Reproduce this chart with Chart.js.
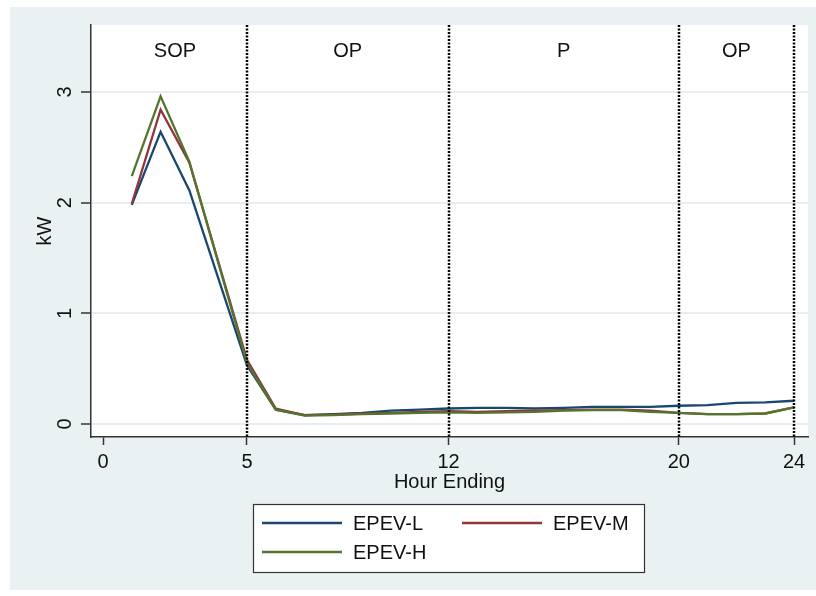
<!DOCTYPE html>
<html>
<head>
<meta charset="utf-8">
<script src="https://cdn.jsdelivr.net/npm/chart.js@4/dist/chart.umd.min.js"></script>
<style>
  html, body { margin: 0; padding: 0; background: #ffffff; }
  #wrap { width: 816px; height: 596px; }
</style>
</head>
<body>
<div id="wrap"><canvas id="c" width="816" height="596"></canvas></div>
<script>
const hours = [1,2,3,4,5,6,7,8,9,10,11,12,13,14,15,16,17,18,19,20,21,22,23,24];
const epevL = [1.98,2.64,2.11,1.32,0.53,0.13,0.08,0.09,0.10,0.12,0.13,0.14,0.145,0.145,0.14,0.145,0.155,0.155,0.155,0.165,0.17,0.19,0.195,0.21];
const epevM = [1.99,2.84,2.36,1.47,0.58,0.14,0.08,0.085,0.095,0.10,0.11,0.115,0.11,0.115,0.12,0.125,0.13,0.13,0.12,0.10,0.09,0.09,0.095,0.15];
const epevH = [2.24,2.96,2.37,1.46,0.55,0.13,0.075,0.08,0.09,0.095,0.10,0.105,0.10,0.105,0.11,0.12,0.125,0.125,0.11,0.10,0.09,0.09,0.095,0.15];
const seriesNames = ['EPEV-L','EPEV-M','EPEV-H'];
const seriesColors = ['#1a476f','#90353b','#55752f'];
const xTicks = [0,5,12,20,24];
const yTicks = [0,1,2,3];
const periodBounds = [5,12,20,24];
const periodLabels = ['SOP','OP','P','OP'];
const periodCenters = [2.5,8.5,16,22];
const periodLabelY = 3.37;

const FONT = "'Liberation Sans', Arial, sans-serif";
const TXT = '#111111';

function toPts(vals) { return hours.map((h, i) => ({x: h, y: vals[i]})); }

const bgPlugin = {
  id: 'bg',
  beforeDraw(chart) {
    const {ctx, chartArea: a} = chart;
    ctx.save();
    ctx.fillStyle = '#eaf1f3';
    ctx.fillRect(10, 7, 806, 583);
    ctx.fillStyle = '#ffffff';
    ctx.fillRect(a.left, a.top, a.right - a.left, a.bottom - a.top);
    ctx.restore();
  }
};

const periodPlugin = {
  id: 'periods',
  afterDatasetsDraw(chart) {
    const {ctx, chartArea: a, scales: {x, y}} = chart;
    ctx.save();
    ctx.strokeStyle = '#000000';
    ctx.lineWidth = 2.5;
    ctx.setLineDash([2, 1.5]);
    periodBounds.forEach(v => {
      const px = Math.round(x.getPixelForValue(v));
      ctx.beginPath();
      ctx.moveTo(px, a.top);
      ctx.lineTo(px, a.bottom);
      ctx.stroke();
    });
    ctx.setLineDash([]);
    ctx.fillStyle = TXT;
    ctx.font = '20px ' + FONT;
    ctx.textAlign = 'center';
    ctx.textBaseline = 'middle';
    periodLabels.forEach((t, i) => {
      ctx.fillText(t, x.getPixelForValue(periodCenters[i]), y.getPixelForValue(periodLabelY));
    });
    ctx.restore();
  }
};

const legendPlugin = {
  id: 'customLegend',
  afterDraw(chart) {
    const {ctx} = chart;
    const box = {l: 253, t: 504, r: 644, b: 572};
    ctx.save();
    ctx.fillStyle = '#ffffff';
    ctx.fillRect(box.l, box.t, box.r - box.l, box.b - box.t);
    ctx.strokeStyle = '#333333';
    ctx.lineWidth = 1.2;
    ctx.strokeRect(box.l + 0.5, box.t + 0.5, box.r - box.l, box.b - box.t);
    const slots = [{x: 262, y: 523}, {x: 462, y: 523}, {x: 262, y: 552}];
    ctx.font = '20px ' + FONT;
    ctx.textBaseline = 'middle';
    ctx.textAlign = 'left';
    chart.data.datasets.forEach((ds, i) => {
      const s = slots[i];
      ctx.strokeStyle = ds.borderColor;
      ctx.lineWidth = 2.6;
      ctx.beginPath();
      ctx.moveTo(s.x, s.y);
      ctx.lineTo(s.x + 80, s.y);
      ctx.stroke();
      ctx.fillStyle = TXT;
      ctx.fillText(ds.label, s.x + 91, s.y + 1);
    });
    ctx.restore();
  }
};

new Chart(document.getElementById('c'), {
  type: 'line',
  data: {
    datasets: [
      {label: seriesNames[0], data: toPts(epevL), borderColor: seriesColors[0], order: 3},
      {label: seriesNames[1], data: toPts(epevM), borderColor: seriesColors[1], order: 2},
      {label: seriesNames[2], data: toPts(epevH), borderColor: seriesColors[2], order: 1}
    ].map(d => Object.assign(d, {borderWidth: 2.3, pointRadius: 0, tension: 0, fill: false}))
  },
  options: {
    responsive: false,
    animation: false,
    layout: {padding: {left: 10, top: 25, right: 8, bottom: 102}},
    plugins: {legend: {display: false}, tooltip: {enabled: false}},
    scales: {
      x: {
        type: 'linear',
        min: -0.417, max: 24.486,
        afterBuildTicks: s => { s.ticks = xTicks.map(v => ({value: v})); },
        afterFit: s => { s.height = 57; },
        grid: {drawOnChartArea: false, drawTicks: true, tickLength: 8, tickColor: '#333333', tickWidth: 1.5},
        border: {display: true, color: '#333333', width: 1.5},
        ticks: {font: {size: 20, family: FONT}, color: TXT, padding: 5, maxRotation: 0, autoSkip: false},
        title: {display: true, text: 'Hour Ending', font: {size: 20, family: FONT}, color: TXT, padding: {top: 0, bottom: 0}}
      },
      y: {
        type: 'linear',
        min: -0.1175, max: 3.605,
        afterBuildTicks: s => { s.ticks = yTicks.map(v => ({value: v})); },
        afterFit: s => { s.width = 81; },
        grid: {color: '#e6eef1', lineWidth: 2, drawTicks: true, tickLength: 10, tickColor: '#333333', tickWidth: 1.5},
        border: {display: true, color: '#333333', width: 1.5},
        ticks: {font: {size: 20, family: FONT}, color: TXT, padding: 9.5, minRotation: 90, maxRotation: 90, crossAlign: 'center'},
        title: {display: true, text: 'kW', font: {size: 20, family: FONT}, color: TXT, padding: {top: 23, bottom: 0}}
      }
    }
  },
  plugins: [bgPlugin, periodPlugin, legendPlugin]
});
</script>
</body>
</html>
